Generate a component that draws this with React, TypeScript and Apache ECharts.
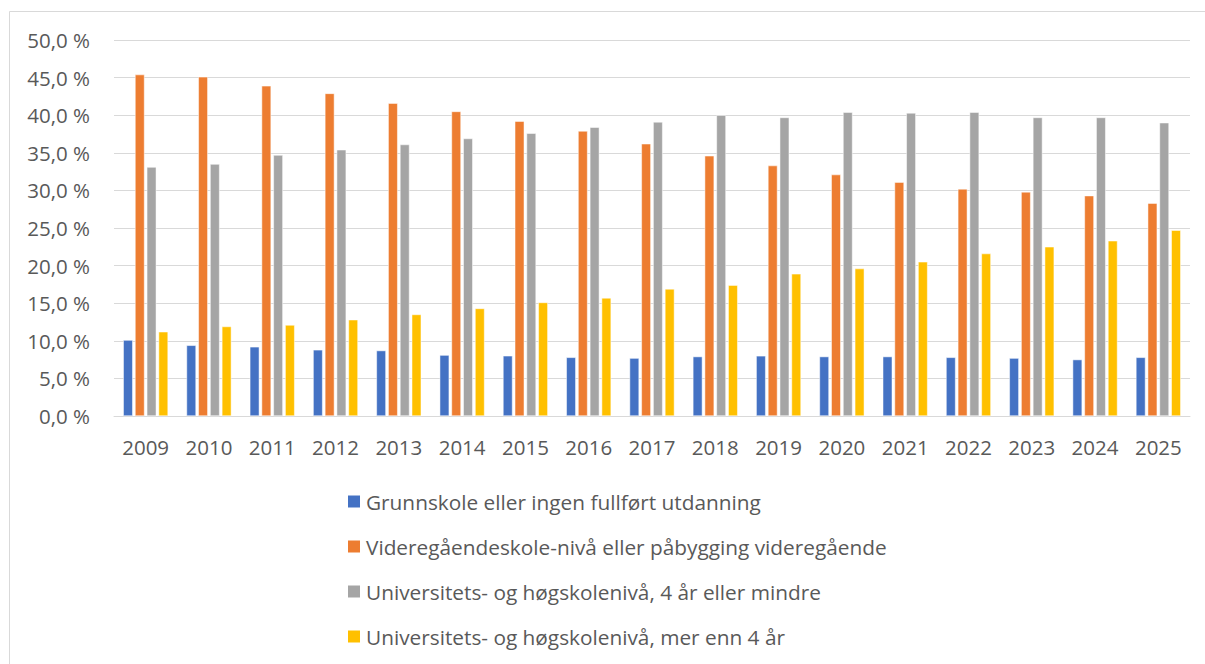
import React, { useEffect, useRef } from "react";
import * as echarts from "echarts";

const years = ["2009","2010","2011","2012","2013","2014","2015","2016","2017","2018","2019","2020","2021","2022","2023","2024","2025"];
const grunnskole = [10.1,9.4,9.2,8.8,8.7,8.1,8.0,7.8,7.7,7.9,8.0,7.9,7.9,7.8,7.7,7.5,7.8];
const videregaende = [45.4,45.1,43.9,42.9,41.6,40.5,39.2,37.9,36.2,34.6,33.3,32.1,31.1,30.2,29.8,29.3,28.3];
const uniKort = [33.1,33.5,34.7,35.4,36.1,36.9,37.6,38.4,39.1,40.0,39.7,40.4,40.3,40.4,39.7,39.7,39.0];
const uniLang = [11.2,11.9,12.1,12.8,13.5,14.3,15.1,15.7,16.9,17.4,18.9,19.6,20.5,21.6,22.5,23.3,24.7];
const seriesNames = [
  "Grunnskole eller ingen fullført utdanning",
  "Videregåendeskole-nivå eller påbygging videregående",
  "Universitets- og høgskolenivå, 4 år eller mindre",
  "Universitets- og høgskolenivå, mer enn 4 år",
];
const colors = ["#4472C4", "#ED7D31", "#A5A5A5", "#FFC000"];
const FONT = "'Open Sans', 'Noto Sans', sans-serif";

export default function App() {
  const ref = useRef<HTMLDivElement>(null);
  useEffect(() => {
    if (!ref.current) return;
    const chart = echarts.init(ref.current, null, { renderer: "svg" });
    const data = [grunnskole, videregaende, uniKort, uniLang];
    chart.setOption({
      animation: false,
      backgroundColor: "#ffffff",
      textStyle: { fontFamily: FONT },
      graphic: [
        {
          type: "rect",
          shape: { x: 9.5, y: 11.5, width: 1300, height: 800 },
          style: { fill: "none", stroke: "#D9D9D9", lineWidth: 1 },
          silent: true,
        },
      ],
      grid: { left: 114, right: 15, top: 40, bottom: 248, containLabel: false },
      legend: {
        orient: "vertical",
        left: 341,
        top: 486,
        height: 200,
        itemWidth: 14,
        itemHeight: 14,
        itemGap: 24,
        icon: "rect",
        textStyle: { fontSize: 20.8, lineHeight: 20, color: "#595959", fontFamily: FONT },
        data: seriesNames,
      },
      xAxis: {
        type: "category",
        data: years,
        axisLine: { show: true, lineStyle: { color: "#D9D9D9", width: 1 } },
        axisTick: { show: false },
        axisLabel: { fontSize: 20.5, color: "#595959", margin: 20, fontFamily: FONT },
      },
      yAxis: {
        type: "value",
        min: 0,
        max: 50,
        interval: 5,
        axisLine: { show: false },
        axisTick: { show: false },
        splitLine: { lineStyle: { color: "#D9D9D9", width: 1 } },
        axisLabel: {
          fontSize: 20.5,
          color: "#595959",
          margin: 24,
          fontFamily: FONT,
          formatter: (v: number) => v.toFixed(1).replace(".", ",") + " %",
        },
      },
      series: data.map((d, i) => ({
        name: seriesNames[i],
        type: "bar",
        data: d,
        barWidth: 9.5,
        barGap: "24%",
        itemStyle: { color: colors[i], borderColor: "#ffffff", borderWidth: 0.5 },
      })),
    });
    return () => chart.dispose();
  }, []);
  return (
    <div
      ref={ref}
      style={{ position: "fixed", left: 0, top: 0, width: 1205, height: 664 }}
    />
  );
}
